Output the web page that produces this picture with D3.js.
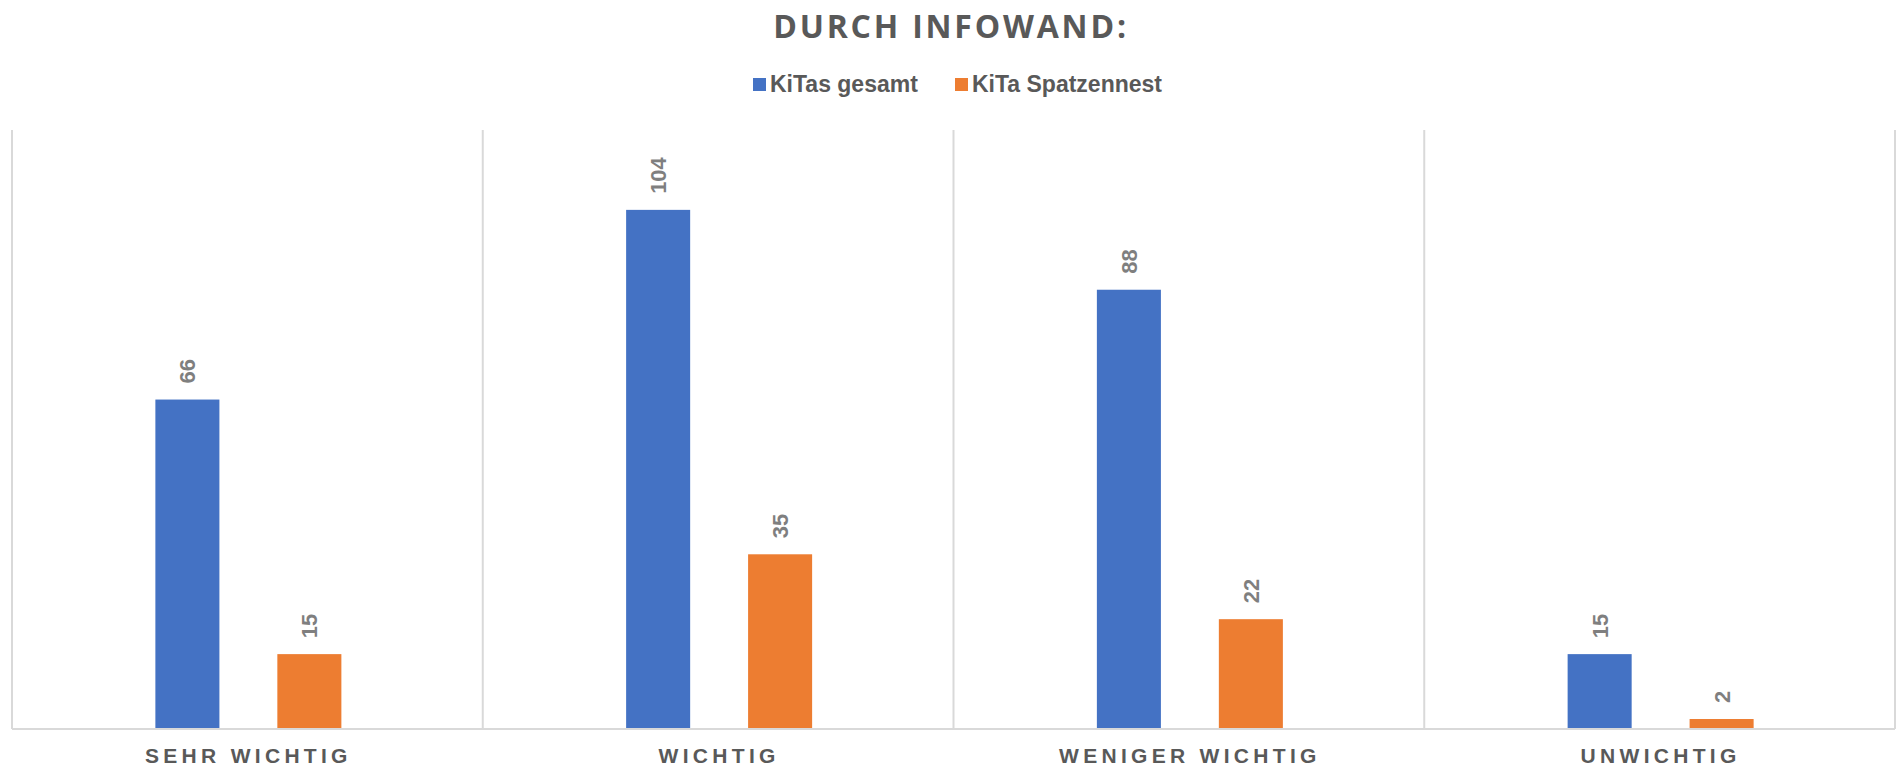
<!DOCTYPE html>
<html>
<head>
<meta charset="utf-8">
<script src="https://cdn.jsdelivr.net/npm/d3@7"></script>
<style>
  body { margin: 0; background: #fff; }
  svg { display: block; }
</style>
</head>
<body>
<div id="chart"></div>
<script>
// Data
let categories = ["SEHR WICHTIG", "WICHTIG", "WENIGER WICHTIG", "UNWICHTIG"];
let seriesNames = ["KiTas gesamt", "KiTa Spatzennest"];
let kitasGesamt = [66, 104, 88, 15];
let kitaSpatzennest = [15, 35, 22, 2];
let colors = ["#4472C4", "#ED7D31"];

let svgWidth = 1898;
let svgHeight = 770;

let chartMargin = { top: 130, right: 3, bottom: 41, left: 12 };
let chartWidth = svgWidth - chartMargin.left - chartMargin.right;
let chartHeight = svgHeight - chartMargin.top - chartMargin.bottom;

let svg = d3.select("#chart")
  .append("svg")
  .attr("width", svgWidth)
  .attr("height", svgHeight);

// Title
svg.append("text")
  .attr("x", svgWidth / 2 + 2)
  .attr("y", 38)
  .attr("text-anchor", "middle")
  .style("font-family", "'Open Sans', sans-serif")
  .style("font-weight", "bold")
  .style("font-size", "32px")
  .style("letter-spacing", "2.8px")
  .style("fill", "#595959")
  .text("DURCH INFOWAND:");

// Legend
let legendItems = [
  { name: seriesNames[0], x: 753 },
  { name: seriesNames[1], x: 955 }
];
let legend = svg.append("g");
legendItems.forEach((d, i) => {
  legend.append("rect")
    .attr("x", d.x)
    .attr("y", 78)
    .attr("width", 13)
    .attr("height", 13)
    .attr("fill", colors[i]);
  legend.append("text")
    .attr("x", d.x + 17)
    .attr("y", 92)
    .style("font-family", "'Liberation Sans', Arial, sans-serif")
    .style("font-weight", "bold")
    .style("font-size", "23px")
    .style("fill", "#595959")
    .text(d.name);
});

let chartGroup = svg.append("g")
  .attr("transform", `translate(${chartMargin.left}, ${chartMargin.top})`);

let x0 = d3.scaleBand()
  .domain(categories)
  .range([0, chartWidth])
  .padding(0);

let groupWidth = 186;
let x1 = d3.scaleBand()
  .domain(seriesNames)
  .range([(x0.bandwidth() - groupWidth) / 2 + 1, (x0.bandwidth() + groupWidth) / 2 + 1])
  .paddingInner(0.475)
  .paddingOuter(0);

let y = d3.scaleLinear()
  .domain([0, 120])
  .range([chartHeight, 0]);

// Category separators
chartGroup.append("g")
  .selectAll("line")
  .data(categories.concat(["end"]))
  .enter()
  .append("line")
  .attr("x1", (d, i) => i < categories.length ? x0(d) : chartWidth)
  .attr("x2", (d, i) => i < categories.length ? x0(d) : chartWidth)
  .attr("y1", 0)
  .attr("y2", chartHeight)
  .attr("stroke", "#d9d9d9")
  .attr("stroke-width", 2);

// Bars
let rows = categories.map((c, i) => ({
  category: c,
  values: [
    { series: seriesNames[0], value: kitasGesamt[i], color: colors[0] },
    { series: seriesNames[1], value: kitaSpatzennest[i], color: colors[1] }
  ]
}));

let groups = chartGroup.append("g")
  .selectAll("g")
  .data(rows)
  .enter()
  .append("g")
  .attr("transform", d => `translate(${x0(d.category)}, 0)`);

groups.selectAll("rect")
  .data(d => d.values)
  .enter()
  .append("rect")
  .attr("x", d => x1(d.series))
  .attr("y", d => y(d.value))
  .attr("width", x1.bandwidth())
  .attr("height", d => chartHeight - y(d.value))
  .attr("fill", d => d.color);

// Rotated value labels
groups.selectAll("text")
  .data(d => d.values)
  .enter()
  .append("text")
  .attr("transform", d => `translate(${x1(d.series) + x1.bandwidth() / 2 + 8}, ${y(d.value) - 16}) rotate(-90)`)
  .attr("text-anchor", "start")
  .style("font-family", "'Liberation Sans', Arial, sans-serif")
  .style("font-weight", "bold")
  .style("font-size", "22px")
  .style("fill", "#7f7f7f")
  .text(d => d.value);

// Baseline
chartGroup.append("line")
  .attr("x1", 0)
  .attr("x2", chartWidth)
  .attr("y1", chartHeight)
  .attr("y2", chartHeight)
  .attr("stroke", "#d9d9d9")
  .attr("stroke-width", 2);

// Category labels
chartGroup.append("g")
  .selectAll("text")
  .data(categories)
  .enter()
  .append("text")
  .attr("x", d => x0(d) + x0.bandwidth() / 2 + 1)
  .attr("y", chartHeight + 34)
  .attr("text-anchor", "middle")
  .style("font-family", "'Liberation Sans', Arial, sans-serif")
  .style("font-weight", "bold")
  .style("font-size", "21px")
  .style("letter-spacing", "4.3px")
  .style("fill", "#595959")
  .text(d => d);
</script>
</body>
</html>
